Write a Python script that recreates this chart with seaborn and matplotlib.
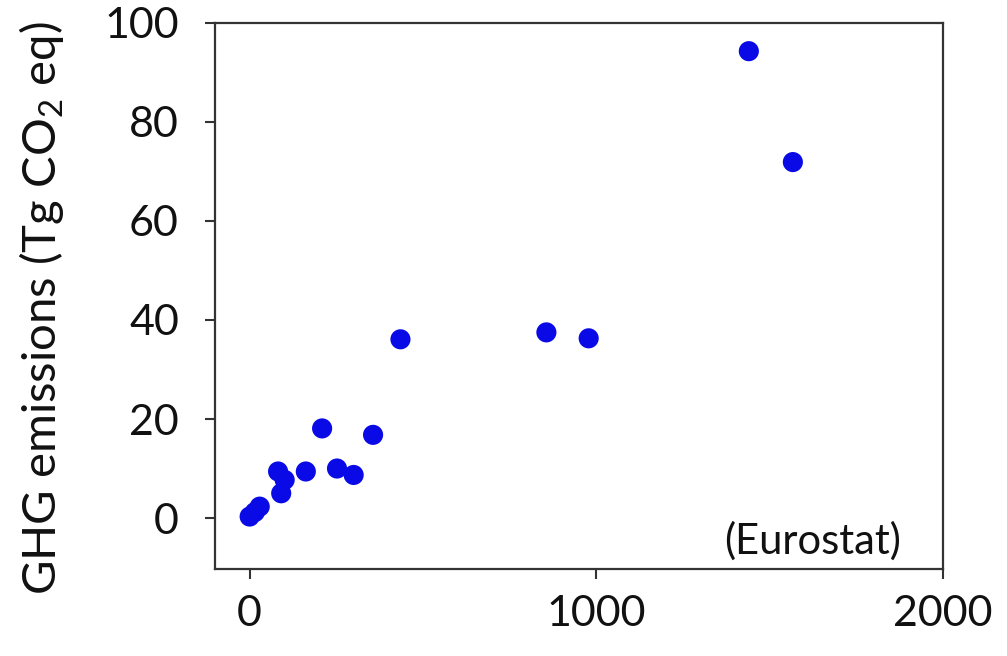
import matplotlib
matplotlib.use("Agg")
import matplotlib.pyplot as plt
import seaborn as sns
import pandas as pd

# Data
production = [0, 15, 29, 82, 91, 101, 162, 209, 252, 300, 356, 435, 856, 978, 1440, 1567]
emissions = [0.3, 1.2, 2.3, 9.4, 5.0, 7.7, 9.4, 18.1, 10.0, 8.7, 16.8, 36.1, 37.5, 36.3, 94.3, 71.9]
x_ticks = [0, 1000, 2000]
y_ticks = [0, 20, 40, 60, 80, 100]
y_label = r"GHG emissions (Tg CO$_2$ eq)"
source_note = "(Eurostat)"

sns.set_theme(style="white")
plt.rcParams["font.family"] = ["Lato", "DejaVu Sans"]
plt.rcParams["mathtext.fontset"] = "custom"
plt.rcParams["mathtext.rm"] = "Lato"
plt.rcParams["mathtext.it"] = "Lato:italic"

df = pd.DataFrame({"x": production, "y": emissions})

fig = plt.figure(figsize=(10.07, 6.56), dpi=100)
ax = fig.add_axes([0.2135, 0.1326, 0.7229, 0.8324])

sns.scatterplot(data=df, x="x", y="y", ax=ax, s=210, color="#0a0ae6",
                edgecolor="none", linewidth=0, legend=False)

ax.set_xlim(-100, 2000)
ax.set_ylim(-10.3, 100)
ax.set_xticks(x_ticks)
ax.set_yticks(y_ticks)
ax.set_xticklabels([str(t) for t in x_ticks])
ax.set_yticklabels([str(t) for t in y_ticks])
ax.tick_params(axis="both", direction="out", length=7, width=1.5, color="#333333",
               labelsize=31, labelcolor="#111111")
ax.tick_params(axis="x", pad=12, bottom=True)
ax.tick_params(axis="y", pad=19, left=True)
ax.set_xlabel("")
ax.set_ylabel(y_label, fontsize=34, color="#111111")
ax.yaxis.set_label_coords(-0.205, 0.478)

for sp in ax.spines.values():
    sp.set_color("#333333")
    sp.set_linewidth(1.6)

ax.text(1625, -4.6, source_note, ha="center", va="center", fontsize=30, color="#111111")

fig.savefig("out.png", dpi=100)
